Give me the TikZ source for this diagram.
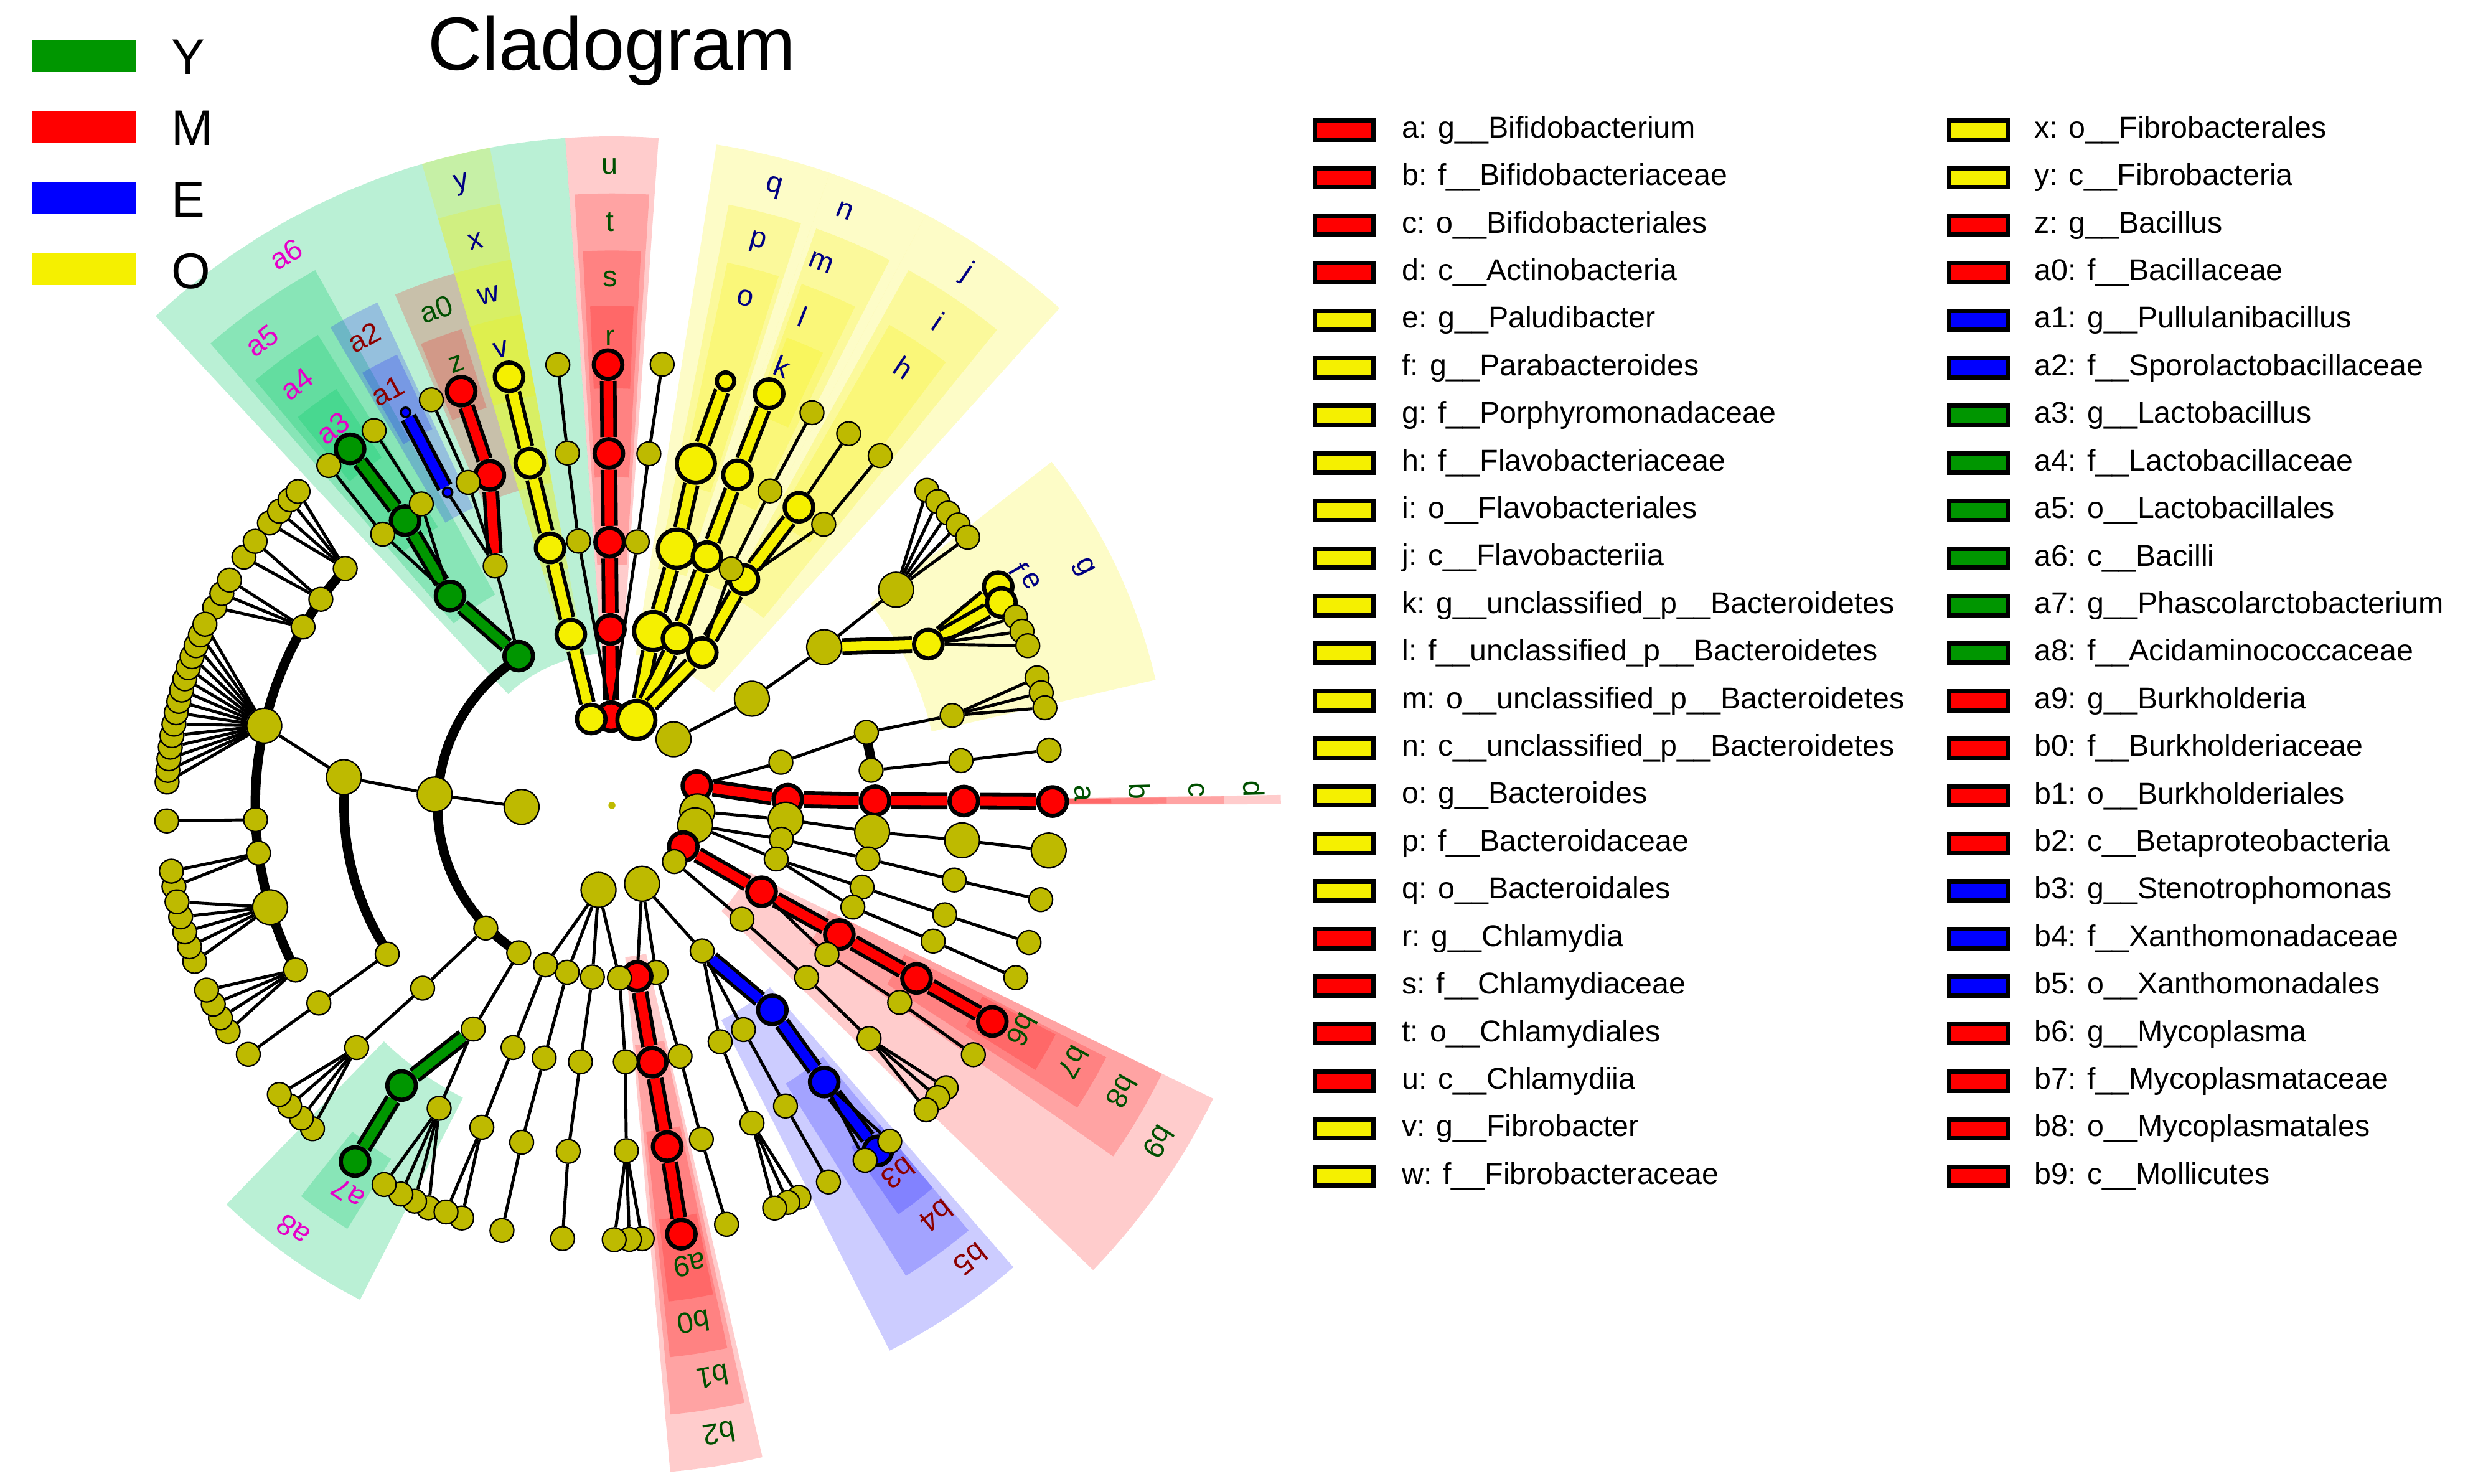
\documentclass[tikz,border=0pt]{standalone}
\usepackage{fontspec}
\setmainfont{Liberation Sans}
\begin{document}
\definecolor{oliv}{RGB}{190,186,0}
\definecolor{yel}{RGB}{245,240,0}
\definecolor{grn}{RGB}{0,150,0}
\definecolor{wgrn}{RGB}{0,200,100}
\definecolor{dg}{RGB}{0,80,0}
\definecolor{dr}{RGB}{140,0,0}
\definecolor{mag}{RGB}{230,0,200}
\definecolor{nav}{RGB}{0,0,130}
\pgfdeclarelayer{wedges}\pgfdeclarelayer{edges}
\pgfsetlayers{wedges,edges,main}
\newcommand\nd[4]{\node[#4] (#1) at (#2:#3) {};}
\newcommand\ed[3][edg]{\begin{pgfonlayer}{edges}\draw[#1] (#2) -- (#3);\end{pgfonlayer}}
\newcommand\fan[4]{\foreach \a [count=\i] in {#3} {\node[ol] (#4-\i) at (\a:#2) {}; \begin{pgfonlayer}{edges}\draw[edg] (#1) -- (#4-\i);\end{pgfonlayer}}}
\newcommand\sect[5]{\fill[#5] plot[domain=#1:#2,samples=15] (\x:#4) -- plot[domain=#2:#1,samples=15] (\x:#3) -- cycle;}
\newcommand\lab[5]{\node[labst,text=#5,rotate={-(#2+90)}] (#1) at (#2:#3) {#4};}
\newcommand\thk[3]{\begin{pgfonlayer}{edges}\draw[line width=3.4pt] plot[domain=#1:#2,samples=40] (\x:#3);\end{pgfonlayer}}
\begin{tikzpicture}[x=0.02cm,y=-0.02cm,
  ol/.style={circle,draw=black,line width=0.5pt,fill=oliv,minimum size=0.3cm,inner sep=0},
  ob/.style={ol,minimum size=0.44cm},
  hn/.style={circle,draw=black,line width=1.5pt,minimum size=0.36cm,inner sep=0},
  hr/.style={hn,fill=red}, hy/.style={hn,fill=yel}, hg/.style={hn,fill=grn}, hb/.style={hn,fill=blue},
  hyb/.style={hy,minimum size=0.48cm},
  bs/.style={circle,draw=black,line width=0.8pt,fill=blue,minimum size=0.12cm,inner sep=0},
  edg/.style={line width=1.1pt},
  hl/.style={draw=black,line width=1.3pt,double distance=3.4pt},
  lr/.style={hl,double=red}, ly/.style={hl,double=yel}, lg/.style={hl,double=grn}, lb/.style={hl,double=blue},
  wr/.style={fill=red,opacity=0.2}, wy/.style={fill=yel,opacity=0.22},
  wg/.style={fill=wgrn,opacity=0.27}, wb/.style={fill=blue,opacity=0.2},
  labst/.style={font=\fontsize{10.5}{11}\selectfont,inner sep=0},
  lgbox/.style={draw=black,line width=1.6pt,minimum width=0.74cm,minimum height=0.24cm,inner sep=0},
  lgtxt/.style={anchor=west,font=\fontsize{10.8}{12}\selectfont,inner sep=0}]
\useasboundingbox (0,0) rectangle (1560,936);
% title and group legend
\node[font=\fontsize{27}{30}\selectfont] (title) at (386,32) {Cladogram};
\foreach \c/\t/\yy in {grn/Y/35,red/M/80,blue/E/125,yel/O/170}{
  \node[fill=\c,minimum width=1.32cm,minimum height=0.4cm,inner sep=0] (gb\t) at (53,\yy) {};
  \node[anchor=west,font=\fontsize{18}{20}\selectfont,inner sep=0] (gt\t) at (108,\yy+1) {\t};}
% legend
\foreach \t/\c [count=\i from 0] in {a: g\_\_Bifidobacterium/red,b: f\_\_Bifidobacteriaceae/red,c: o\_\_Bifidobacteriales/red,d: c\_\_Actinobacteria/red,e: g\_\_Paludibacter/yel,f: g\_\_Parabacteroides/yel,g: f\_\_Porphyromonadaceae/yel,h: f\_\_Flavobacteriaceae/yel,i: o\_\_Flavobacteriales/yel,j: c\_\_Flavobacteriia/yel,k: g\_\_unclassified\_p\_\_Bacteroidetes/yel,l: f\_\_unclassified\_p\_\_Bacteroidetes/yel,m: o\_\_unclassified\_p\_\_Bacteroidetes/yel,n: c\_\_unclassified\_p\_\_Bacteroidetes/yel,o: g\_\_Bacteroides/yel,p: f\_\_Bacteroidaceae/yel,q: o\_\_Bacteroidales/yel,r: g\_\_Chlamydia/red,s: f\_\_Chlamydiaceae/red,t: o\_\_Chlamydiales/red,u: c\_\_Chlamydiia/red,v: g\_\_Fibrobacter/yel,w: f\_\_Fibrobacteraceae/yel}{
  \node[lgbox,fill=\c] (lb\i) at (848,82+30*\i) {};
  \node[lgtxt] (lt\i) at (884,82+30*\i) {\t};}
\foreach \t/\c [count=\i from 0] in {x: o\_\_Fibrobacterales/yel,y: c\_\_Fibrobacteria/yel,z: g\_\_Bacillus/red,a0: f\_\_Bacillaceae/red,a1: g\_\_Pullulanibacillus/blue,a2: f\_\_Sporolactobacillaceae/blue,a3: g\_\_Lactobacillus/grn,a4: f\_\_Lactobacillaceae/grn,a5: o\_\_Lactobacillales/grn,a6: c\_\_Bacilli/grn,a7: g\_\_Phascolarctobacterium/grn,a8: f\_\_Acidaminococcaceae/grn,a9: g\_\_Burkholderia/red,b0: f\_\_Burkholderiaceae/red,b1: o\_\_Burkholderiales/red,b2: c\_\_Betaproteobacteria/red,b3: g\_\_Stenotrophomonas/blue,b4: f\_\_Xanthomonadaceae/blue,b5: o\_\_Xanthomonadales/blue,b6: g\_\_Mycoplasma/red,b7: f\_\_Mycoplasmataceae/red,b8: o\_\_Mycoplasmatales/red,b9: c\_\_Mollicutes/red}{
  \node[lgbox,fill=\c] (rb\i) at (1248,82+30*\i) {};
  \node[lgtxt] (rt\i) at (1283,82+30*\i) {\t};}
\begin{scope}[shift={(386,508)}]
\node[fill=oliv,circle,inner sep=0,minimum size=0.09cm] (root) at (0,0) {};
% ---------- shaded clades
\begin{pgfonlayer}{wedges}
\sect{359.1}{359.9}{96}{422}{wr}\sect{359.15}{359.85}{152}{386}{wr}\sect{359.2}{359.8}{207}{350}{wr}\sect{359.25}{359.75}{263}{315}{wr}
\sect{26}{44}{96}{422}{wr}\sect{26}{35}{152}{386}{wr}\sect{27}{33}{207}{350}{wr}\sect{27.3}{32}{263}{315}{wr}
\sect{49}{63}{152}{386}{wb}\sect{50}{58}{207}{350}{wb}\sect{50}{55}{263}{315}{wb}
\sect{77}{85}{96}{422}{wr}\sect{77.5}{84.5}{152}{386}{wr}\sect{78}{84}{207}{350}{wr}\sect{78.3}{83.5}{263}{315}{wr}
\sect{117}{134}{207}{350}{wg}\sect{122}{128.5}{263}{315}{wg}
\sect{227}{266}{96}{422}{wg}\sect{229}{241}{152}{386}{wg}\sect{230}{238}{207}{350}{wg}\sect{231}{236.5}{263}{315}{wg}
\sect{239.5}{245}{207}{350}{wb}\sect{240}{244.5}{263}{315}{wb}
\sect{247}{253.5}{207}{350}{wr}\sect{247.5}{252.5}{263}{315}{wr}
\sect{253.5}{259.5}{96}{422}{wy}\sect{253.5}{259.5}{152}{386}{wy}\sect{253.5}{259.5}{207}{350}{wy}\sect{253.5}{259.5}{263}{315}{wy}
\sect{266}{274}{96}{422}{wr}\sect{266.5}{273.5}{152}{386}{wr}\sect{267}{273}{207}{350}{wr}\sect{267.5}{272.5}{263}{315}{wr}
\sect{279}{289}{96}{422}{wy}\sect{281}{288}{152}{386}{wy}\sect{282}{287.5}{207}{350}{wy}
\sect{289}{298}{96}{422}{wy}\sect{289.5}{297}{152}{386}{wy}\sect{290}{296}{207}{350}{wy}\sect{290.5}{295}{263}{315}{wy}
\sect{298}{312}{96}{422}{wy}\sect{299}{309}{152}{386}{wy}\sect{300}{307}{207}{350}{wy}
\sect{322}{347}{207}{352}{wy}
\end{pgfonlayer}
\thk{122}{238}{110}\thk{146.5}{186}{169}\thk{152}{222}{225}\thk{344}{352.3}{166}
% ---------- Firmicutes
\nd{F}{179}{57}{ob}\nd{Cl}{183.5}{112}{ob}\ed{F}{Cl}
\nd{Co}{186}{170}{ob}\ed{Cl}{Co}
\nd{Cb}{146.5}{170}{ol}\nd{Cb2}{146}{223}{ol}\nd{Cb3}{145.6}{278}{ol}\ed{Cb}{Cb2}\ed{Cb2}{Cb3}
\nd{f1}{221.6}{225}{ol}\fan{f1}{280}{219.5,221.5,223.5,225}{g1}
\nd{f2}{215.3}{225}{ol}\fan{f2}{280}{214,216.5}{g2}
\nd{f3}{210}{225}{ol}\fan{f3}{280}{206.5,208.5,210.5}{g3}
\nd{f4}{192.9}{225}{ob}\ed{Co}{f4}\fan{f4}{281}{183,184.5,186,187.5,189,190.5,192,193.5,195,196.5,198,199.5,201,202.5,204}{g4}
\nd{f5}{177.7}{225}{ol}\fan{f5}{281}{178}{g5}
\nd{f6}{172.3}{225}{ol}\fan{f6}{281}{169.5,171.5}{g6}
\nd{f7}{163.4}{225}{ob}\fan{f7}{281}{159.5,161.5,163.5,165.5,167.5}{g7}
\nd{f8}{152.5}{225}{ol}\fan{f8}{281}{149.5,151.5,153.5,155.5}{g8}
% Bacilli
\nd{Ba}{238}{111}{hg}
\nd{Bo}{232.3}{167}{hg}\nd{Bf}{234}{222}{hg}\nd{Bg}{233.7}{279}{hg}
\ed[lg]{Ba}{Bo}\ed[lg]{Bo}{Bf}\ed[lg]{Bf}{Bg}
\nd{bo1}{237.7}{225}{ol}\nd{bo1g}{237.6}{280}{ol}\ed{Bo}{bo1}\ed{bo1}{bo1g}
\nd{bo2}{229.8}{224}{ol}\nd{bo2g}{230.2}{279}{ol}\ed{Bo}{bo2}\ed{bo2}{bo2g}
\nd{Bo2}{244}{168}{ol}\ed{Ba}{Bo2}
\nd{z0}{249.7}{222}{hr}\nd{zz}{250}{278}{hr}\ed[lr]{Bo2}{z0}\ed[lr]{z0}{zz}
\nd{a2n}{242.3}{223}{bs}\nd{a1n}{242.3}{280}{bs}\ed[lb]{a2n}{a1n}\ed{Bo2}{a2n}
\nd{o246}{246}{223}{ol}\nd{o246g}{246}{280}{ol}\ed{Bo2}{o246}\ed{o246}{o246g}
% Negativicutes
\nd{c122}{122.3}{110}{ol}\nd{n122}{121.8}{166}{ol}\ed{c122}{n122}
\nd{a8n}{126.9}{221}{hg}\nd{a7n}{125.8}{277}{hg}\ed[lg]{n122}{a8n}\ed[lg]{a8n}{a7n}
\nd{o120}{119.7}{220}{ol}\ed{n122}{o120}\fan{o120}{279}{114.5,116.5,118.5,121}{g9}
\nd{c136}{135.8}{111}{ol}\nd{n136}{136}{166}{ol}\nd{m136}{136.5}{222}{ol}\ed{c136}{n136}\ed{n136}{m136}
\fan{m136}{278}{132.8,134.8,137,139}{g10}
% ---------- Chlamydiae
\nd{C1}{269.5}{56}{hr}\nd{C2}{269.5}{111}{hr}\nd{C3}{269.5}{166}{hr}\nd{C4}{269.5}{222}{hr}\nd{C5}{269.5}{278}{hr}
\ed[lr]{C1}{C2}\ed[lr]{C2}{C3}\ed[lr]{C3}{C4}\ed[lr]{C4}{C5}
\nd{ch1}{262.8}{168}{ol}\nd{ch1b}{262.8}{224}{ol}\nd{ch1c}{263}{280}{ol}\ed{C1}{ch1}\ed{ch1}{ch1b}\ed{ch1b}{ch1c}
\nd{ch2}{275.5}{167}{ol}\nd{ch2b}{276}{223}{ol}\nd{ch2c}{276.5}{280}{ol}\ed{C1}{ch2}\ed{ch2}{ch2b}\ed{ch2b}{ch2c}
% ---------- Fibrobacteres
\nd{Fi1}{256.5}{56}{hy}\nd{Fi2}{256.5}{111}{hy}\nd{Fi3}{256.5}{167}{hy}\nd{Fi4}{256.5}{222}{hy}\nd{Fi5}{256.5}{278}{hy}
\ed[ly]{Fi1}{Fi2}\ed[ly]{Fi2}{Fi3}\ed[ly]{Fi3}{Fi4}\ed[ly]{Fi4}{Fi5}
% ---------- Bacteroidetes
\nd{PB}{286}{56}{hyb}
\nd{Bc1}{283.3}{113}{hyb}\nd{Bc2}{291.3}{113}{hy}\nd{Bc3}{300.6}{112}{hy}
\nd{Bo1}{284.2}{167}{hyb}\nd{Bo3b}{290.9}{168}{hy}\nd{Bo3}{300.3}{165}{hy}
\nd{Bf1}{283.8}{222}{hyb}\nd{Bf2}{290.8}{223}{hy}\nd{Bf3}{302.1}{222}{hy}
\nd{Bg1}{285}{277}{hn,fill=yel,minimum size=0.22cm}\nd{Bg2}{290.9}{278}{hy}
\ed[ly]{PB}{Bc1}\ed[ly]{PB}{Bc2}\ed[ly]{PB}{Bc3}\ed[ly]{Bc1}{Bo1}\ed[ly]{Bc2}{Bo3b}\ed[ly]{Bc3}{Bo3}
\ed[ly]{Bo1}{Bf1}\ed[ly]{Bo3b}{Bf2}\ed[ly]{Bo3}{Bf3}\ed[ly]{Bf1}{Bg1}\ed[ly]{Bf2}{Bg2}
\nd{ob297}{296.8}{167}{ol}\nd{of297}{296.7}{222}{ol}\nd{og297}{297}{278}{ol}\ed{Bc3}{ob297}\ed{ob297}{of297}\ed{of297}{og297}
\nd{og302}{302.5}{278}{ol}\ed{Bf3}{og302}
\nd{of307}{307}{222}{ol}\nd{og307}{307.5}{278}{ol}\ed{Bo3}{of307}\ed{of307}{og307}
% Porphyromonadaceae group
\nd{P313}{313}{57}{ob}\nd{c323}{322.7}{111}{ob}\nd{o323}{323.3}{167}{ob}\ed{P313}{c323}\ed{c323}{o323}
\nd{fam323}{322.8}{225}{ob}\ed{o323}{fam323}\fan{fam323}{281}{315,317,319,321,323}{g11}
\nd{gfam}{333}{224}{hy}\ed[ly]{o323}{gfam}
\nd{en}{330.5}{280}{hy}\nd{fn}{332.5}{277}{hy}\ed[ly]{gfam}{en}\ed[ly]{gfam}{fn}
\fan{gfam}{281}{335,337,339}{g12}
% ---------- Actinobacteria
\nd{A1}{347}{55}{hr}\nd{A2}{358}{111}{hr}\nd{A3}{359}{166}{hr}\nd{A4}{359.3}{222}{hr}\nd{A5}{359.5}{278}{hr}
\ed[lr]{A1}{A2}\ed[lr]{A2}{A3}\ed[lr]{A3}{A4}\ed[lr]{A4}{A5}
\nd{A2o}{345.7}{110}{ol}\ed{A1}{A2o}
\nd{A3o1}{344}{167}{ol}\nd{A3o2}{352.3}{165}{ol}\ed{A2o}{A3o1}
\nd{A4o1}{345.2}{222}{ol}\ed{A3o1}{A4o1}\fan{A4o1}{280}{343.3,345.3,347.3}{g13}
\nd{A4o2}{352.7}{222}{ol}\nd{A5o2}{352.8}{278}{ol}\ed{A3o2}{A4o2}\ed{A4o2}{A5o2}
% ---------- right olive phyla
\nd{R4}{4}{54}{ob}\nd{R13}{13.5}{54}{ob}
\nd{q1}{4.7}{110}{ob}\nd{q2}{5.8}{165}{ob}\nd{q3}{5.7}{222}{ob}\nd{q4}{5.9}{277}{ob}\ed{R4}{q1}\ed{q1}{q2}\ed{q2}{q3}\ed{q3}{q4}
\nd{s1}{11.3}{109}{ol}\nd{s2}{11.8}{165}{ol}\nd{s3}{12.3}{221}{ol}\nd{s4}{12.4}{277}{ol}\ed{R13}{s1}\ed{s1}{s2}\ed{s2}{s3}\ed{s3}{s4}
\nd{t1}{18.1}{109}{ol}\nd{t2}{18.1}{166}{ol}\nd{t3}{18.2}{221}{ol}\nd{t4}{18.2}{277}{ol}\ed{R13}{t1}\ed{t1}{t2}\ed{t2}{t3}\ed{t3}{t4}
\nd{u2}{22.9}{165}{ol}\nd{u3}{22.9}{220}{ol}\nd{u4}{23.1}{277}{ol}\ed{t1}{u2}\ed{u2}{u3}\ed{u3}{u4}
% Tenericutes
\nd{T1}{30}{52}{hr}\nd{T2}{30}{109}{hr}\nd{T3}{29.6}{165}{hr}\nd{T4}{29.6}{221}{hr}\nd{T5}{29.6}{276}{hr}
\ed[lr]{T1}{T2}\ed[lr]{T2}{T3}\ed[lr]{T3}{T4}\ed[lr]{T4}{T5}
\nd{v2}{34.7}{165}{ol}\nd{v3}{34.4}{220}{ol}\nd{v4}{34.6}{277}{ol}\ed{T2}{v2}\ed{v2}{v3}\ed{v3}{v4}
\nd{R42}{42}{53}{ol}\nd{w1}{41.2}{109}{ol}\nd{w2}{41.5}{164}{ol}\nd{w3}{42.2}{219}{ol}
\ed{R42}{w1}\ed{w1}{w2}\ed{w2}{w3}\fan{w3}{276}{40.2,41.9,44.1}{g14}
% Proteobacteria
\nd{P69}{69}{53}{ob}\nd{P99}{99}{54}{ob}
\nd{c58}{58.2}{108}{ol}\ed{P69}{c58}
\nd{b5n}{51.9}{164}{hb}\nd{b4n}{52.5}{220}{hb}\nd{b3n}{52.4}{275}{hb}\ed[lb]{c58}{b5n}\ed[lb]{b5n}{b4n}\ed[lb]{b4n}{b3n}
\fan{b4n}{275}{50.4,54.5}{g15}
\nd{x1}{59.6}{164}{ol}\nd{x2}{60}{219}{ol}\nd{x3}{60.1}{274}{ol}\ed{c58}{x1}\ed{x1}{x2}\ed{x2}{x3}
\nd{y1}{65.4}{164}{ol}\nd{y2}{66.2}{219}{ol}\ed{c58}{y1}\ed{y1}{y2}\fan{y2}{274}{64.5,66.1,68}{g16}
\nd{c75}{75.2}{109}{ol}\nd{c75b}{74.8}{164}{ol}\nd{c75c}{75}{218}{ol}\nd{c75d}{74.7}{274}{ol}\ed{P69}{c75}\ed{c75}{c75b}\ed{c75b}{c75c}\ed{c75c}{c75d}
\nd{b2n}{81.6}{109}{hr}\nd{b1n}{81.1}{164}{hr}\nd{b0n}{80.8}{218}{hr}\nd{a9n}{80.8}{274}{hr}
\ed{P69}{b2n}\ed[lr]{b2n}{b1n}\ed[lr]{b1n}{b0n}\ed[lr]{b0n}{a9n}
\nd{c87}{87.5}{109}{ol}\nd{c87b}{87}{162}{ol}\nd{c87c}{87.6}{218}{ol}\ed{P99}{c87}\ed{c87}{c87b}\ed{c87b}{c87c}\fan{c87c}{274}{86,87.7,89.7}{g17}
\nd{c96}{96.5}{109}{ol}\nd{c96b}{97}{163}{ol}\nd{c96c}{97.2}{220}{ol}\nd{c96d}{96.5}{275}{ol}\ed{P99}{c96}\ed{c96}{c96b}\ed{c96b}{c96c}\ed{c96c}{c96d}
\nd{c105}{105}{109}{ol}\nd{c105b}{105}{165}{ol}\nd{c105c}{105}{220}{ol}\nd{c105d}{104.5}{277}{ol}\ed{P99}{c105}\ed{c105}{c105b}\ed{c105b}{c105c}\ed{c105c}{c105d}
\nd{c112}{112.6}{109}{ol}\nd{c112b}{112.2}{165}{ol}\nd{c112c}{112}{219}{ol}\ed{P99}{c112}\ed{c112}{c112b}\ed{c112b}{c112c}\fan{c112c}{277}{110,112.2}{g18}
% ---------- labels
\lab{La}{358.5}{297}{a}{dg}\lab{Lb}{358.5}{333}{b}{dg}\lab{Lc}{358.5}{369}{c}{dg}\lab{Ld}{358.5}{405}{d}{dg}
\lab{Lb6}{28.7}{295}{b6}{dg}\lab{Lb7}{29.1}{333}{b7}{dg}\lab{Lb8}{29.3}{369}{b8}{dg}\lab{Lb9}{31.6}{405}{b9}{dg}
\lab{Lb3}{52.1}{294}{b3}{dr}\lab{Lb4}{51.7}{330}{b4}{dr}\lab{Lb5}{51.7}{365}{b5}{dr}
\lab{La9}{80.4}{294}{a9}{dg}\lab{Lb0}{81}{330}{b0}{dg}\lab{Lb1}{80}{366}{b1}{dg}\lab{Lb2}{80.3}{402}{b2}{dg}
\lab{La7}{124.2}{296}{a7}{mag}\lab{La8}{126.9}{335}{a8}{mag}
\lab{La3}{233.5}{296}{a3}{mag}\lab{La4}{233.2}{332}{a4}{mag}\lab{La5}{233}{367}{a5}{mag}\lab{La6}{239.4}{404}{a6}{mag}
\lab{La1}{241.6}{297}{a1}{dr}\lab{La2}{242.1}{334}{a2}{dr}
\lab{Lz}{250.6}{295}{z}{dg}\lab{La0}{250.5}{332}{a0}{dg}
\lab{Lv}{256.3}{296}{v}{nav}\lab{Lw}{256.4}{331}{w}{nav}\lab{Lx}{256.4}{366}{x}{nav}\lab{Ly}{256.4}{403}{y}{nav}
\lab{Lr}{269.8}{295}{r}{dg}\lab{Ls}{269.8}{332}{s}{dg}\lab{Lt}{269.8}{368}{t}{dg}\lab{Lu}{269.8}{403}{u}{dg}
\lab{Lo}{284.7}{331}{o}{nav}\lab{Lp}{284.5}{367}{p}{nav}\lab{Lq}{284.7}{403}{q}{nav}
\lab{Lk}{291.2}{297}{k}{nav}\lab{Ll}{291.3}{331}{l}{nav}\lab{Lm}{291.1}{367}{m}{nav}\lab{Ln}{291.4}{403}{n}{nav}
\lab{Lh}{303.7}{332}{h}{nav}\lab{Li}{304}{368}{i}{nav}\lab{Lj}{303.7}{404}{j}{nav}
\lab{Lf}{329.8}{297}{f}{nav}\lab{Le}{331.8}{300}{e}{nav}\lab{Lg}{333.2}{333}{g}{nav}
\end{scope}
\end{tikzpicture}
\end{document}
